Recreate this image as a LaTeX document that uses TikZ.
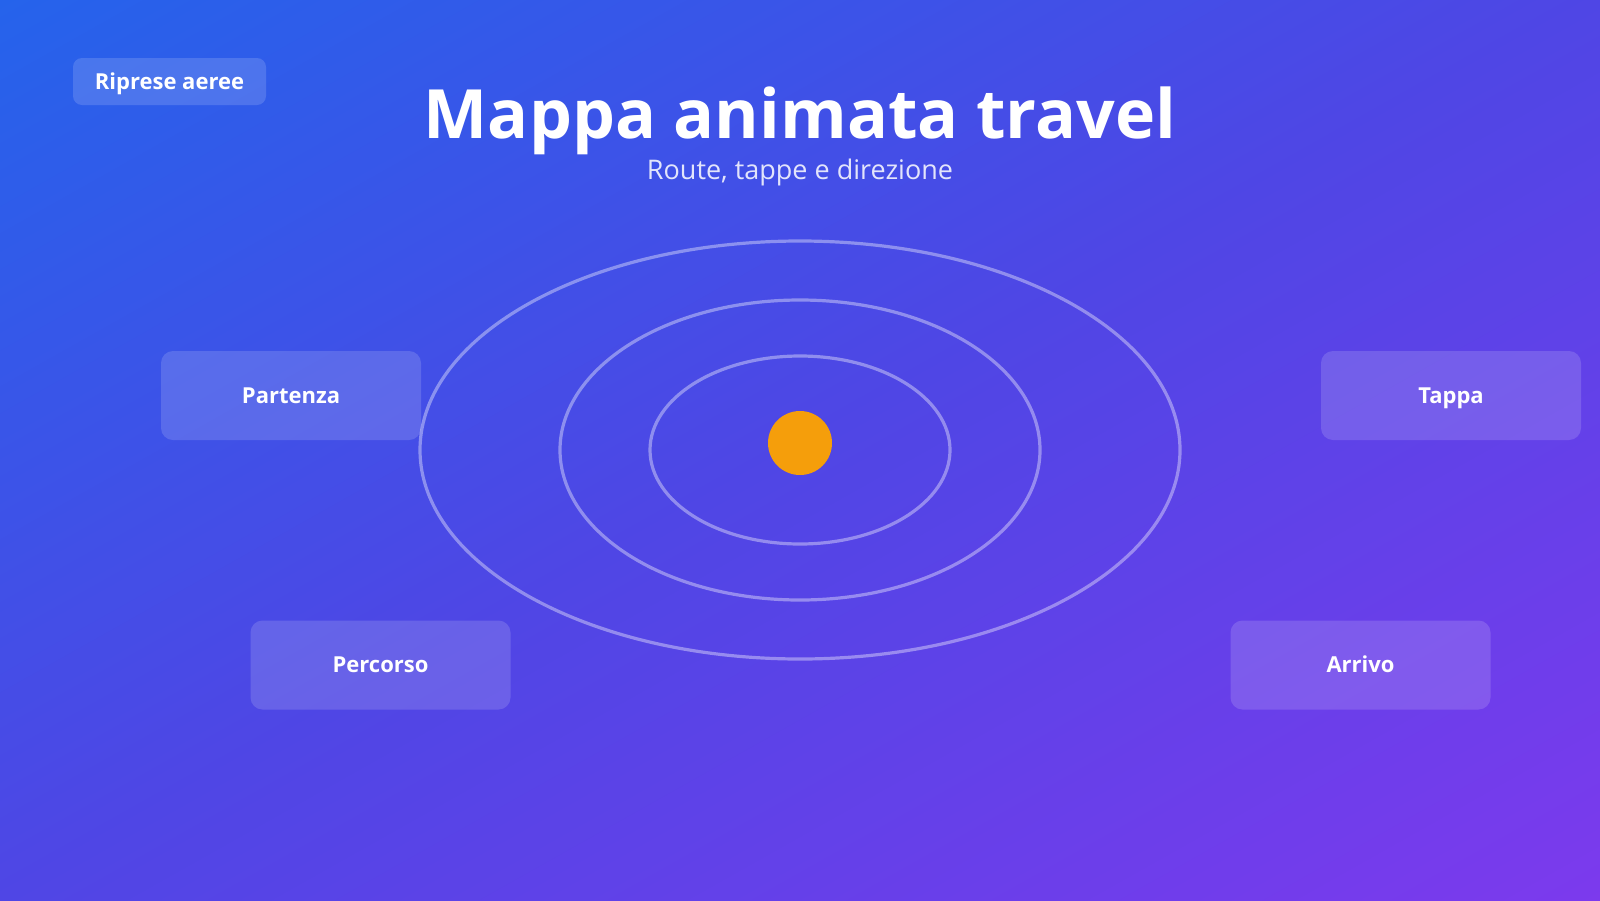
\documentclass[tikz,border=0pt]{standalone}
\usepackage{fontspec}
\setmainfont{Open Sans}
\definecolor{gA}{HTML}{2563EB}
\definecolor{gB}{HTML}{4F46E5}
\definecolor{gC}{HTML}{7C3AED}
\definecolor{sun}{HTML}{F59E0B}
\begin{document}
\begin{tikzpicture}[x=1pt,y=-1pt,
  card/.style={rounded corners=12pt, fill=white, fill opacity=0.15, text opacity=1, text=white,
    minimum width=260pt, minimum height=89pt, inner sep=0pt, text height=15.7pt, text depth=0pt,
    font=\bfseries\fontsize{22}{26}\selectfont},
  badge/.style={rounded corners=9pt, fill=white, fill opacity=0.15, text opacity=1, text=white,
    minimum width=193pt, minimum height=47pt, inner sep=0pt, text height=15.7pt, text depth=0pt,
    font=\bfseries\fontsize{22}{26}\selectfont},
  ring/.style={draw=white, draw opacity=0.38, line width=3.2pt}]
\useasboundingbox (0,0) rectangle (1600,900);
% background gradient, to bottom right
\begin{scope}
\clip (0,0) rectangle (1600,900);
\fill[gA] (0,0) rectangle (1600,900);
\foreach \i in {0,...,199}{
  \pgfmathsetmacro\ta{\i*7.8445}
  \pgfmathsetmacro\tb{(\i+1.6)*7.8445}
  \ifnum\i<100
    \pgfmathsetmacro\pc{\i+0.5}
    \colorlet{strip}{gB!\pc!gA}
  \else
    \pgfmathsetmacro\pc{\i-99.5}
    \colorlet{strip}{gC!\pc!gB}
  \fi
  \fill[strip] ({415.4+0.49026*\ta+1743.1},{-233.7+0.87157*\ta-980.5})
    -- ({415.4+0.49026*\tb+1743.1},{-233.7+0.87157*\tb-980.5})
    -- ({415.4+0.49026*\tb-1743.1},{-233.7+0.87157*\tb+980.5})
    -- ({415.4+0.49026*\ta-1743.1},{-233.7+0.87157*\ta+980.5}) -- cycle;
}
\end{scope}
% rings
\draw[ring] (800,450) ellipse [x radius=380pt, y radius=209pt];
\draw[ring] (800,450) ellipse [x radius=240pt, y radius=150pt];
\draw[ring] (800,450) ellipse [x radius=150pt, y radius=94pt];
\node[circle, fill=sun, minimum size=64pt, inner sep=0pt] (hub) at (800,443) {};
% title
\node[text=white, font=\bfseries\fontsize{68}{82}\selectfont, anchor=base, inner sep=0pt] (title) at (800,138) {Mappa animata travel};
\node[text=white, text opacity=0.85, font=\fontsize{27}{32}\selectfont, anchor=base, inner sep=0pt] (sub) at (800,179) {Route, tappe e direzione};
\node[badge] (tag) at (169.5,81.5) {Riprese aeree};
% cards
\node[card] (start) at (291,395.5) {Partenza};
\node[card] (stop) at (1451,395.5) {Tappa};
\node[card] (route) at (380.5,665) {Percorso};
\node[card] (end) at (1360.5,665) {Arrivo};
\end{tikzpicture}
\end{document}
